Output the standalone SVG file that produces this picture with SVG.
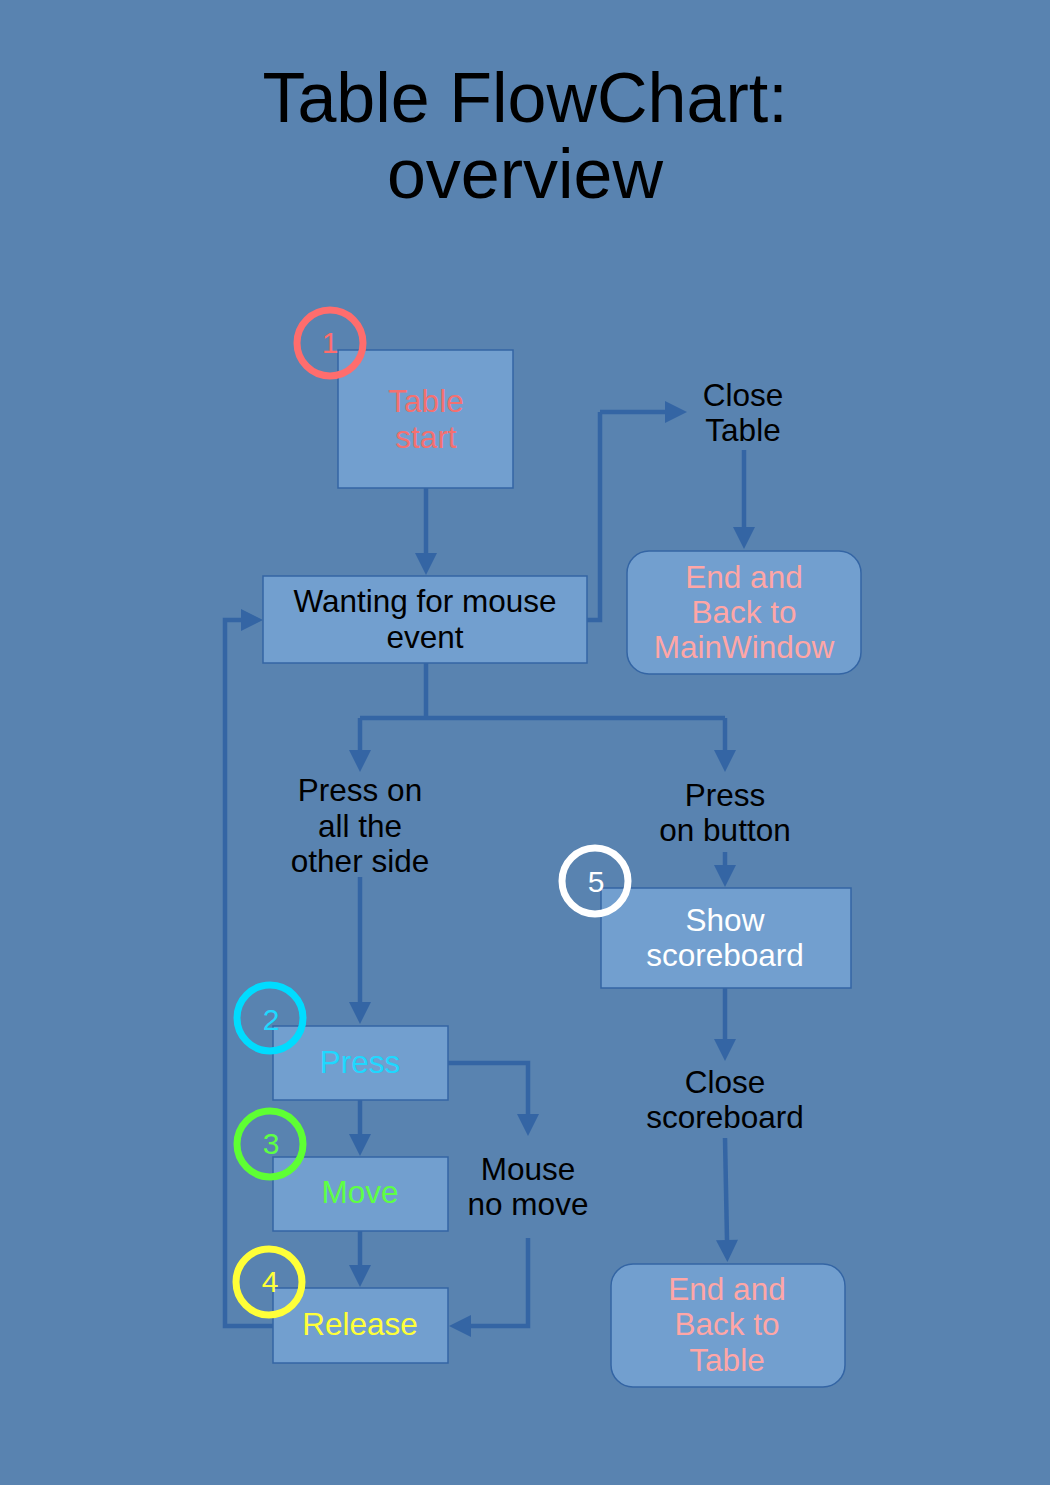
<svg xmlns="http://www.w3.org/2000/svg" width="1050" height="1485" viewBox="0 0 1050 1485">
<style>
text{font-family:"Liberation Sans",Arial,sans-serif;text-anchor:middle}
.t{font-size:31.5px}
.box{fill:#729fcf;stroke:#3465a4;stroke-width:1.5}
.c{fill:none;stroke:#3465a4;stroke-width:4.5;marker-end:url(#ah)}
.cn{fill:none;stroke:#3465a4;stroke-width:4.5}
.ring{fill:none;stroke-width:7}
.num{font-size:30px}
</style>
<defs>
<marker id="ah" markerUnits="userSpaceOnUse" markerWidth="22" markerHeight="22" refX="0" refY="11" orient="auto" overflow="visible">
<path d="M0,0 L22,11 L0,22 z" fill="#3465a4"/>
</marker>
</defs>
<rect width="1050" height="1485" fill="#5983b0"/>
<g id="title">
<text x="525" y="122" font-size="70">Table FlowChart:</text>
<text x="525" y="198" font-size="70">overview</text>
</g>
<g id="connectors">
<path class="c" d="M426,488 V553"/>
<path class="cn" d="M587,620 H600 V412 H600"/>
<path class="c" d="M600,412 H665"/>
<path class="c" d="M744,450 V527"/>
<path class="cn" d="M426,663 V718 M360,718 H725"/>
<path class="c" d="M360,718 V750"/>
<path class="c" d="M725,718 V750"/>
<path class="c" d="M360,877 V1002"/>
<path class="c" d="M725,852 V865"/>
<path class="c" d="M725,988 V1039"/>
<path class="c" d="M725,1138 L727,1240"/>
<path class="c" d="M448,1063 H528 V1114"/>
<path class="c" d="M528,1238 V1326 H471"/>
<path class="c" d="M360,1100 V1134"/>
<path class="c" d="M360,1231 V1265"/>
<path class="c" d="M273,1326 H225 V620 H241"/>
</g>
<g id="table-start">
<rect class="box" x="338" y="350" width="175" height="138"/>
<text class="t" x="426" y="412" fill="#f47070">Table</text>
<text class="t" x="426" y="448" fill="#f47070">start</text>
<circle class="ring" cx="330" cy="343" r="33" stroke="#ff6d6d"/>
<text class="num" x="330" y="353" fill="#ff6d6d">1</text>
</g>
<g id="wanting">
<rect class="box" x="263" y="576" width="324" height="87"/>
<text class="t" x="425" y="612">Wanting for mouse</text>
<text class="t" x="425" y="648">event</text>
</g>
<g id="close-table">
<text class="t" x="743" y="406">Close</text>
<text class="t" x="743" y="441">Table</text>
</g>
<g id="end-main">
<rect class="box" x="627" y="551" width="234" height="123" rx="22"/>
<text class="t" x="744" y="588" fill="#ffa6a6">End and</text>
<text class="t" x="744" y="623" fill="#ffa6a6">Back to</text>
<text class="t" x="744" y="658" fill="#ffa6a6">MainWindow</text>
</g>
<g id="press-other">
<text class="t" x="360" y="801">Press on</text>
<text class="t" x="360" y="837">all the</text>
<text class="t" x="360" y="872">other side</text>
</g>
<g id="press-button">
<text class="t" x="725" y="806">Press</text>
<text class="t" x="725" y="841">on button</text>
</g>
<g id="show-scoreboard">
<rect class="box" x="601" y="888" width="250" height="100"/>
<text class="t" x="725" y="931" fill="#ffffff">Show</text>
<text class="t" x="725" y="966" fill="#ffffff">scoreboard</text>
<circle class="ring" cx="595" cy="881" r="33" stroke="#ffffff"/>
<text class="num" x="596" y="892" fill="#ffffff">5</text>
</g>
<g id="close-scoreboard">
<text class="t" x="725" y="1093">Close</text>
<text class="t" x="725" y="1128">scoreboard</text>
</g>
<g id="end-table">
<rect class="box" x="611" y="1264" width="234" height="123" rx="22"/>
<text class="t" x="727" y="1300" fill="#ffa6a6">End and</text>
<text class="t" x="727" y="1335" fill="#ffa6a6">Back to</text>
<text class="t" x="727" y="1371" fill="#ffa6a6">Table</text>
</g>
<g id="press">
<rect class="box" x="273" y="1026" width="175" height="74"/>
<text class="t" x="360" y="1073" fill="#1fd8ff">Press</text>
<circle class="ring" cx="270" cy="1018" r="33" stroke="#00dcff"/>
<text class="num" x="271" y="1030" fill="#1fd8ff">2</text>
</g>
<g id="mouse-no-move">
<text class="t" x="528" y="1180">Mouse</text>
<text class="t" x="528" y="1215">no move</text>
</g>
<g id="move">
<rect class="box" x="273" y="1157" width="175" height="74"/>
<text class="t" x="360" y="1203" fill="#5eff44">Move</text>
<circle class="ring" cx="270" cy="1144" r="33" stroke="#5eff33"/>
<text class="num" x="271" y="1154" fill="#5eff44">3</text>
</g>
<g id="release">
<rect class="box" x="273" y="1288" width="175" height="75"/>
<text class="t" x="360" y="1335" fill="#ffff38">Release</text>
<circle class="ring" cx="269" cy="1282" r="33" stroke="#ffff38"/>
<text class="num" x="270" y="1292" fill="#ffff38">4</text>
</g>
</svg>
